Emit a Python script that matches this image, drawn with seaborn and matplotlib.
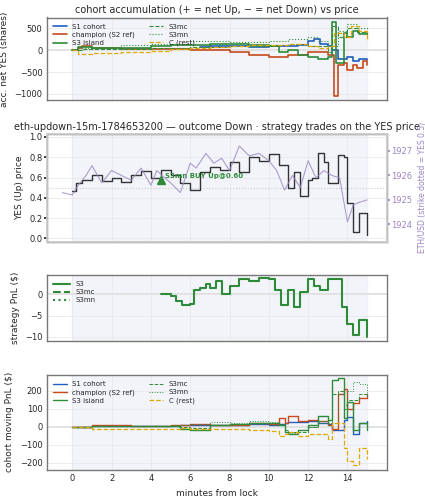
import matplotlib
matplotlib.use("Agg")
import matplotlib.pyplot as plt
import seaborn as sns
import pandas as pd

sns.set_theme(style="whitegrid")
plt.rcParams['font.family'] = ['DejaVu Sans']

BLUE = "#1f5fbf"
RED = "#c84a1e"
GREEN = "#2e8b3a"
GOLD = "#e0a800"
PURPLE = "#9b85c4"

# --- panel 1: accumulated net YES shares ---
t_s1 = [6.5, 7, 8, 9, 10, 11, 11.5, 12, 12.3, 12.6, 13, 13.2, 13.5, 14, 14.3, 14.6, 15]
acc_s1 = [80, 90, 100, 80, 90, 100, 120, 200, 250, 150, 100, 0, -200, -150, -250, -200, -220]
t_ch = [0, 0.3, 0.5, 1, 2, 2.5, 4, 6, 7, 8, 9, 10, 10.5, 11, 11.5, 12, 12.5, 13, 13.3, 13.5, 13.8, 14, 14.3, 14.5, 14.8, 15]
acc_ch = [0, 60, 90, 60, 50, 30, 20, 10, 0, -50, -100, -150, -150, -120, -100, -50, -50, -100, -1050, -350, -300, -450, -350, -400, -250, -330]
t_s3 = [0, 0.3, 1, 2.5, 4, 5, 6, 7, 8, 9, 10, 10.5, 11, 11.5, 12, 12.5, 13, 13.2, 13.4, 13.8, 14, 14.3, 14.6, 15]
acc_s3 = [0, 70, 50, 40, 100, 120, 130, 150, 150, 120, 100, -50, 0, -100, -150, -200, -150, 650, -300, 400, 300, 450, 380, 400]
t_mc = [0, 0.5, 2.5, 4, 6, 8, 10, 11, 12, 13, 13.2, 13.5, 14, 14.5, 15]
acc_mc = [0, 20, 30, 60, 80, 100, 120, 150, 100, -50, 550, 300, 500, 420, 350]
t_mn = [0, 0.5, 2.5, 4, 6, 8, 10, 11, 12, 12.5, 13, 13.5, 14, 14.5, 15]
acc_mn = [0, 40, 130, 140, 200, 180, 200, 250, 300, 200, 100, 450, 600, 500, 450]
t_c = [0, 0.3, 1, 2.5, 4, 5, 6, 7, 8, 9, 10, 11, 12, 12.5, 13, 13.3, 13.8, 14.2, 14.6, 15]
acc_c = [0, -80, -60, -40, -20, 20, 60, 80, 100, 120, 130, 150, 100, 50, 100, 400, 300, 550, 450, 200]

# --- panel 2: YES price and ETH ---
t_yes = [0, 0.2, 0.5, 1, 1.5, 2, 2.5, 3, 3.5, 4, 4.5, 5, 5.5, 6, 6.5, 7, 7.5, 8, 8.5, 9, 9.5, 10, 10.5, 11, 11.3, 11.6, 12, 12.2, 12.5, 12.8, 13, 13.5, 13.8, 14, 14.3, 14.6, 15]
yes = [0.47, 0.55, 0.58, 0.62, 0.57, 0.60, 0.56, 0.62, 0.66, 0.60, 0.67, 0.62, 0.55, 0.48, 0.65, 0.70, 0.67, 0.75, 0.65, 0.80, 0.76, 0.83, 0.72, 0.50, 0.65, 0.42, 0.58, 0.60, 0.84, 0.75, 0.55, 0.82, 0.80, 0.35, 0.06, 0.25, 0.03]
t_eth = [-0.5, 0, 0.3, 0.7, 1, 1.5, 2, 2.5, 3, 3.5, 4, 4.3, 4.7, 5, 5.5, 6, 6.3, 6.8, 7.2, 7.6, 8, 8.5, 9, 9.5, 10, 10.4, 10.8, 11.2, 11.6, 12, 12.4, 12.8, 13.2, 13.6, 14, 14.3, 14.6, 15]
eth = [1925.3, 1925.2, 1925.6, 1926.0, 1926.4, 1925.7, 1926.2, 1926.0, 1925.8, 1926.3, 1925.6, 1926.2, 1925.9, 1925.7, 1925.3, 1926.5, 1926.3, 1926.9, 1926.5, 1926.7, 1926.2, 1927.2, 1926.8, 1926.9, 1926.6, 1926.2, 1925.4, 1926.0, 1925.5, 1926.6, 1925.9, 1926.2, 1926.0, 1925.9, 1924.1, 1924.8, 1924.9, 1925.0]

# --- panel 3: strategy PnL ---
t_pnl = [4.5, 5, 5.3, 5.6, 6, 6.2, 6.5, 6.8, 7, 7.3, 7.6, 8, 8.5, 9, 9.5, 10, 10.3, 10.6, 11, 11.3, 11.6, 12, 12.3, 12.6, 13, 13.3, 13.7, 14, 14.3, 14.6, 15]
pnl_s3 = [0, -0.5, -1.5, -2.5, -2.3, 1, 1.5, 2.5, 1.5, 3, 0, 2, 3.5, 3, 3.8, 3.5, 1, -2.5, 1, -3, 0.5, 3.5, 2, 1, 3.5, 3.5, -3, -7, -9.5, -6, -10]

# --- panel 4: cohort moving PnL ---
t_m = [0, 1, 2, 3, 4, 5, 5.5, 6, 7, 8, 9, 10, 10.5, 10.8, 11, 11.5, 12, 12.5, 13, 13.2, 13.5, 13.8, 14, 14.3, 14.6, 15]
m_s1 = [0, 5, 5, 5, 5, 5, 8, 10, 10, 10, 15, 10, 15, 20, 25, 25, 30, 20, 15, -20, -20, 40, 55, -40, 20, 30]
m_ch = [0, 10, 10, 5, 5, 10, 12, 15, 10, 10, 20, 15, 50, 20, 60, 30, 40, 30, 10, -10, 180, 210, 100, 130, 160, 180]
m_s3 = [0, 5, 5, 5, 5, 5, -10, -20, 10, 15, 20, 20, 10, -30, -40, -20, 10, 60, 40, 260, 270, 50, 140, -20, 20, -20]
m_mc = [0, 5, 5, 5, 5, 5, 0, -5, 10, 15, 20, 20, 10, -20, -30, -30, 0, 30, 20, 180, 200, 100, 150, 150, 180, 170]
m_mn = [0, 5, 5, 5, 5, 8, 10, 15, 25, 20, 30, 25, 15, -20, -35, -20, 0, 20, 10, 20, 180, 120, 200, 250, 240, 170]
m_c = [0, -10, -10, -10, -10, -10, -8, -10, -10, -10, -20, -25, -50, -40, -30, -50, -40, -40, -70, 20, 20, -120, -190, -210, -120, -180]

fig, axes = plt.subplots(4, 1, figsize=(4.25, 5), dpi=100, sharex=True,
                         gridspec_kw={'height_ratios': [1, 1.3, 0.8, 1.15]})

def style(ax, zero=True):
    ax.axvspan(0, 15, color="#eef0f8", alpha=0.7, zorder=0)
    if zero:
        ax.axhline(0, color="#dddddd", lw=1.2, zorder=0.5)
    ax.grid(True, color="#e6e6e6", lw=0.5)
    for s in ax.spines.values():
        s.set_color("#777777")
        s.set_linewidth(1)
    ax.tick_params(labelsize=6, length=2, pad=1)
    ax.set_xlim(-1.3, 16)

def step(ax, x, y, steps=True, **kw):
    df = pd.DataFrame({'x': x, 'y': y})
    if steps:
        kw['drawstyle'] = 'steps-post'
    sns.lineplot(data=df, x='x', y='y', ax=ax, estimator=None, sort=False, **kw)

ax = axes[0]
style(ax)
step(ax, t_s1, acc_s1, color=BLUE, lw=1.2, label="S1 cohort")
step(ax, t_ch, acc_ch, color=RED, lw=1.2, label="champion (S2 ref)")
step(ax, t_s3, acc_s3, color=GREEN, lw=1.2, label="S3 island")
step(ax, t_mc, acc_mc, color=GREEN, lw=0.8, ls='--', label="S3mc")
step(ax, t_mn, acc_mn, color=GREEN, lw=0.8, ls=':', label="S3mn")
step(ax, t_c, acc_c, color=GOLD, lw=0.9, ls='--', label="C (rest)")
ax.set_ylim(-1150, 750)
ax.set_yticks([-1000, -500, 0, 500])
ax.set_ylabel("acc. net YES (shares)", fontsize=6.5)
ax.set_xlabel("")
ax.set_title("cohort accumulation (+ = net Up, − = net Down) vs price", fontsize=7, pad=3)
ax.legend(ncol=2, fontsize=5, loc='upper left', frameon=False, handlelength=2, labelspacing=0.3)

ax = axes[1]
style(ax, zero=False)
ax.axhline(0.5, color="#cccccc", lw=0.8, ls=':')
step(ax, t_yes, yes, color="#333333", lw=1.0)
ax.plot([4.5], [0.58], marker='^', color=GREEN, ms=6, ls='none')
ax.text(4.7, 0.6, "S3mn BUY Up@0.60", color=GREEN, fontsize=5, fontweight='bold')
ax.set_ylim(-0.03, 1.03)
ax.set_ylabel("YES (Up) price", fontsize=6.5)
ax.set_xlabel("")
ax.set_title("eth-updown-15m-1784653200 — outcome Down · strategy trades on the YES price", fontsize=7, pad=3)
ax2 = ax.twinx()
step(ax2, t_eth, eth, steps=False, color=PURPLE, lw=0.8, alpha=0.8)
ax2.set_ylim(1923.3, 1927.7)
ax2.set_yticks([1924, 1925, 1926, 1927])
ax2.grid(False)
ax2.tick_params(labelsize=6, colors=PURPLE, length=2, pad=1)
ax2.set_ylabel("ETH/USD (strike dotted = YES 0.5)", fontsize=5.5, color=PURPLE)
ax2.set_xlabel("")

ax = axes[2]
style(ax)
step(ax, t_pnl, pnl_s3, color=GREEN, lw=1.5, label="S3")
ax.plot([], [], color=GREEN, lw=1.5, ls='--', label="S3mc")
ax.plot([], [], color=GREEN, lw=1.5, ls=':', label="S3mn")
ax.set_ylim(-11, 4.5)
ax.set_yticks([-10, -5, 0])
ax.set_ylabel("strategy PnL ($)", fontsize=6.5)
ax.set_xlabel("")
ax.legend(fontsize=5, loc='upper left', frameon=False, handlelength=2.5, labelspacing=0.3)

ax = axes[3]
style(ax)
step(ax, t_m, m_s1, color=BLUE, lw=1.0, label="S1 cohort")
step(ax, t_m, m_ch, color=RED, lw=1.0, label="champion (S2 ref)")
step(ax, t_m, m_s3, color=GREEN, lw=1.0, label="S3 island")
step(ax, t_m, m_mc, color=GREEN, lw=0.7, ls='--', label="S3mc")
step(ax, t_m, m_mn, color=GREEN, lw=0.7, ls=':', label="S3mn")
step(ax, t_m, m_c, color=GOLD, lw=0.9, ls='--', label="C (rest)")
ax.set_ylim(-240, 290)
ax.set_yticks([-200, -100, 0, 100, 200])
ax.set_xticks(range(0, 16, 2))
ax.set_ylabel("cohort moving PnL ($)", fontsize=6.5)
ax.set_xlabel("minutes from lock", fontsize=6.5)
ax.legend(ncol=2, fontsize=5, loc='upper left', frameon=False, handlelength=2, labelspacing=0.3)

fig.subplots_adjust(left=0.11, right=0.91, top=0.965, bottom=0.06, hspace=0.38)
fig.savefig("out.png", dpi=100)
